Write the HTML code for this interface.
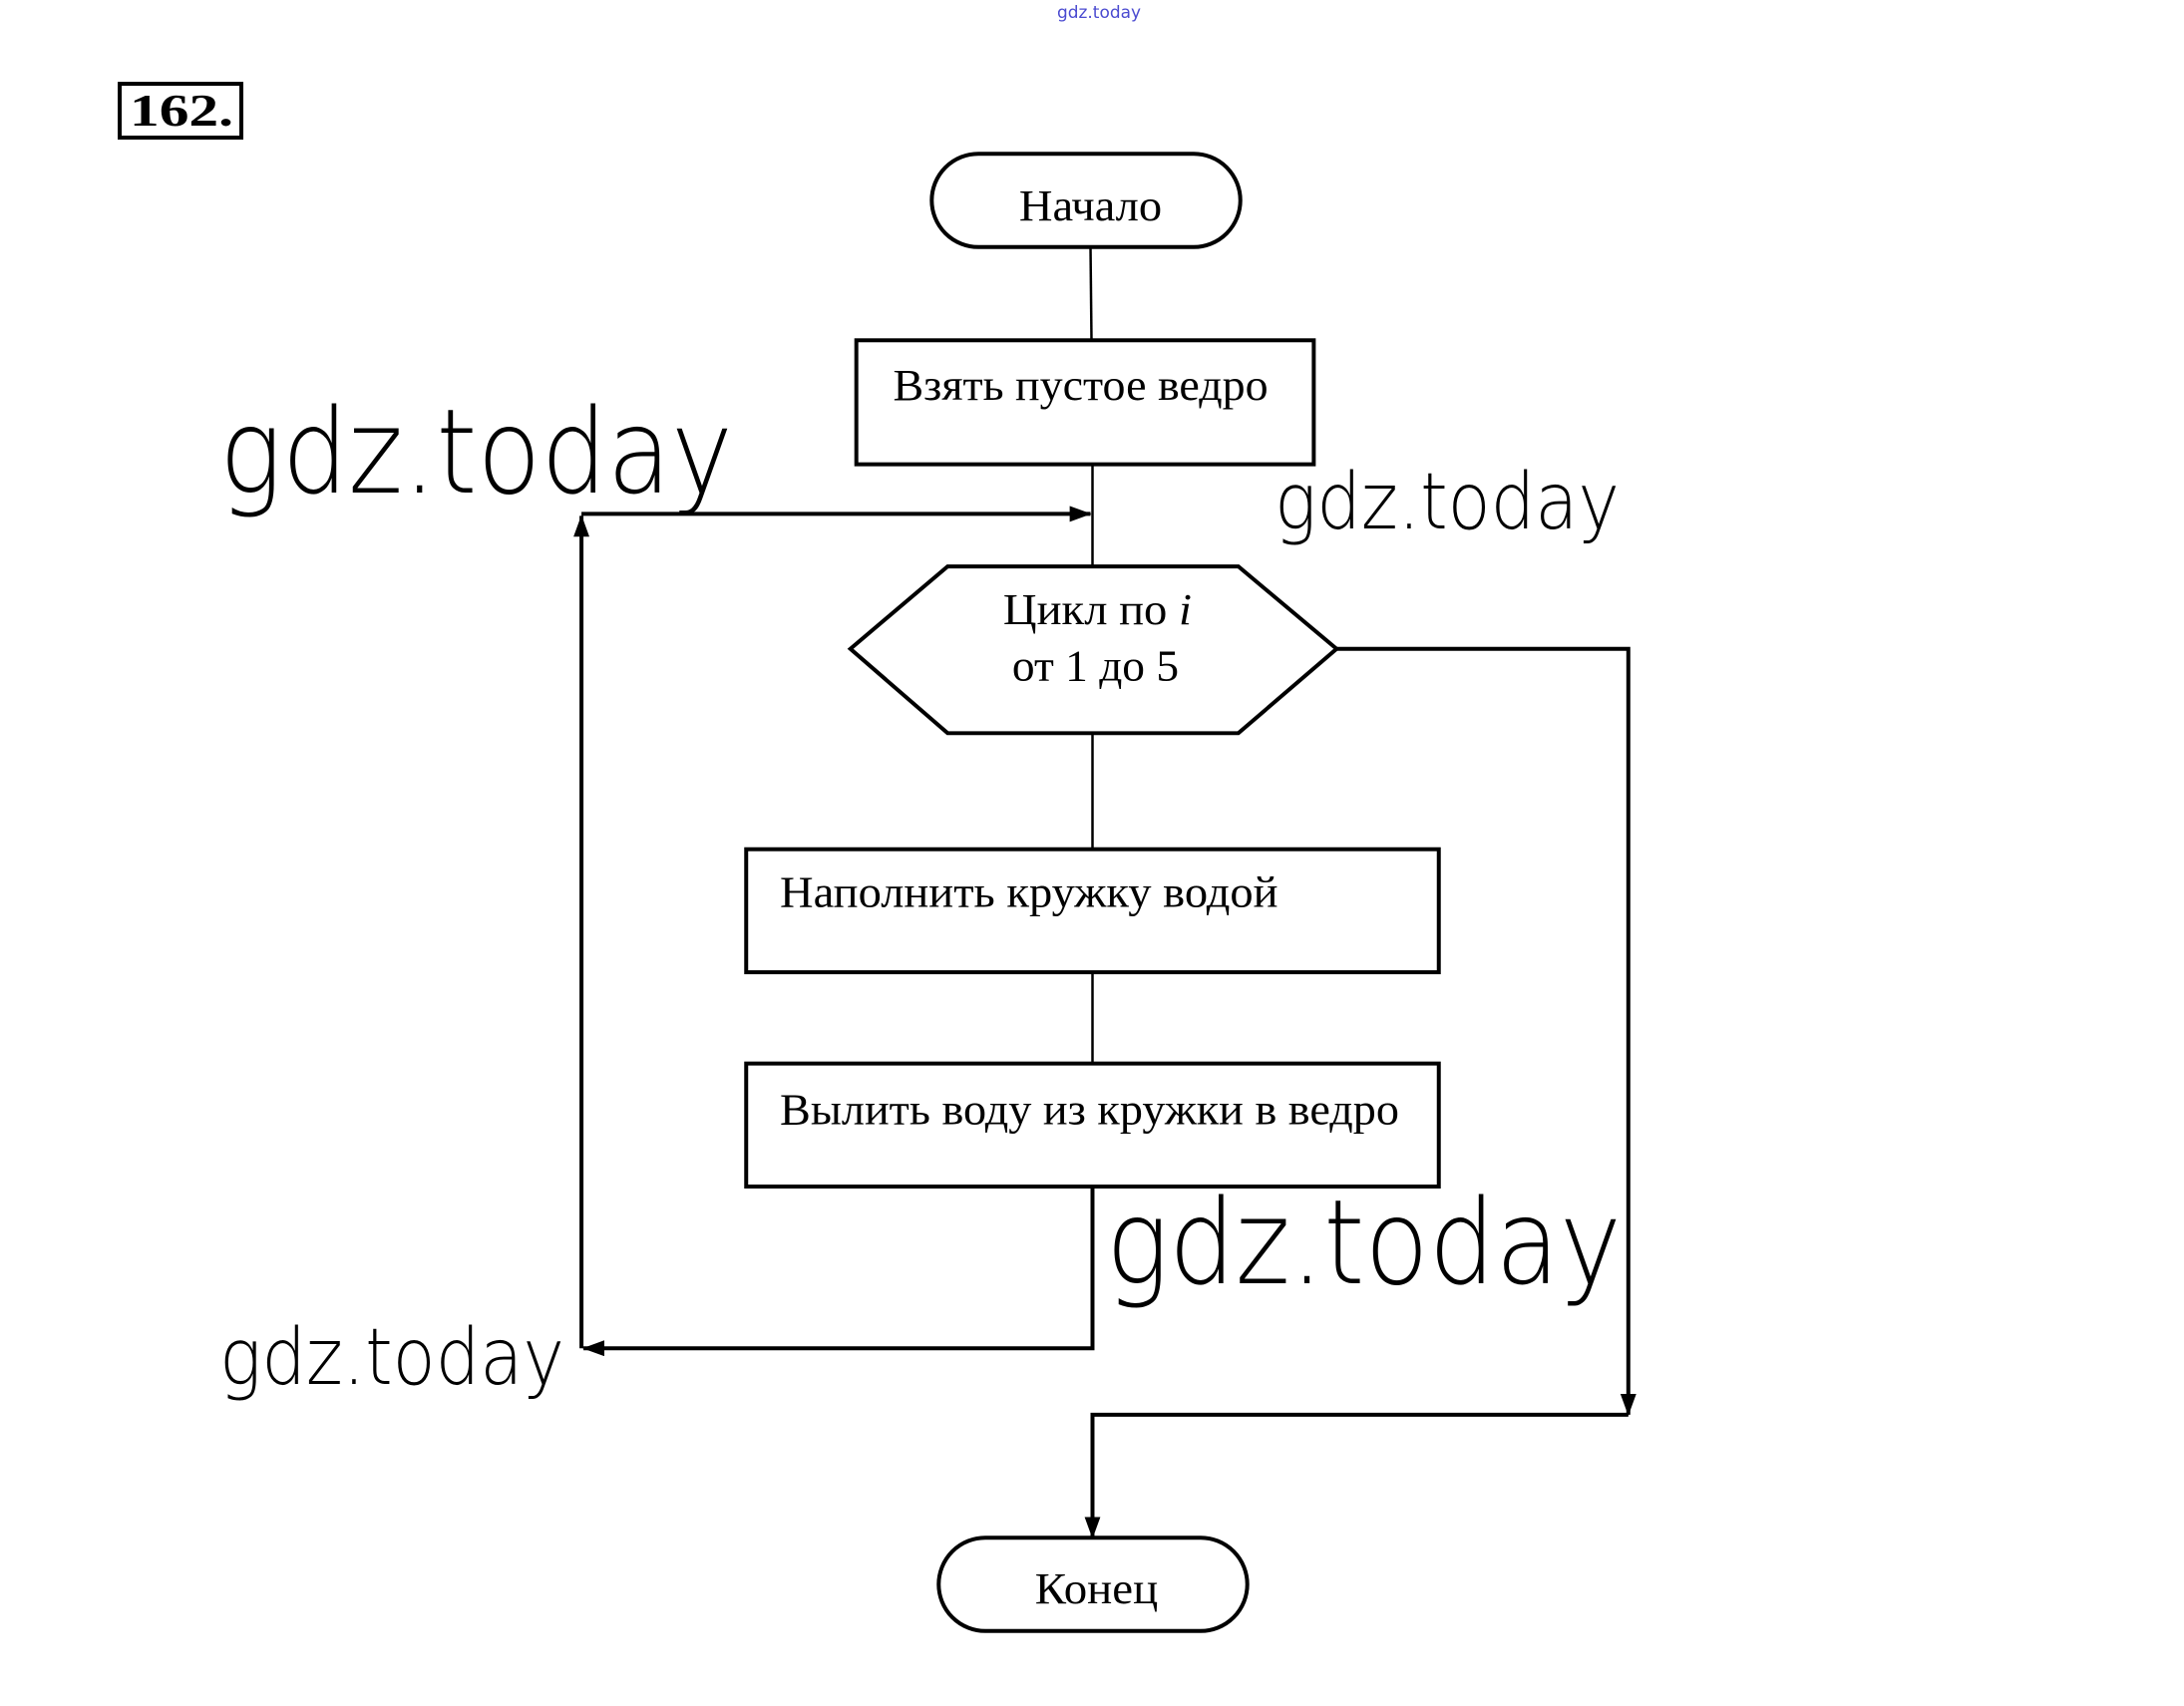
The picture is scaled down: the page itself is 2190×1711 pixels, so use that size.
<!DOCTYPE html>
<html><head><meta charset="utf-8"><style>
html,body{margin:0;padding:0;background:#fff;}
svg{display:block;}
.t{font-family:"Liberation Serif",serif;font-size:45px;fill:#000;}
.w{font-family:"DejaVu Sans","Liberation Sans",sans-serif;font-weight:200;fill:#000;}
</style></head><body>
<svg width="2190" height="1711" viewBox="0 0 2190 1711" xmlns="http://www.w3.org/2000/svg">
<defs>
<marker id="ar" markerWidth="22" markerHeight="16" refX="21" refY="8" orient="auto" markerUnits="userSpaceOnUse" viewBox="0 0 22 16">
<path d="M0,0 L22,8 L0,16 z" fill="#000"/></marker>
</defs>
<rect x="0" y="0" width="2190" height="1711" fill="#fff"/>
<text x="1060" y="18" style="font-family:'DejaVu Sans',sans-serif;font-size:17px;fill:#4a4ad0" textLength="84" lengthAdjust="spacingAndGlyphs">gdz.today</text>

<rect x="120" y="84" width="122" height="54" fill="none" stroke="#000" stroke-width="4"/>
<text x="130" y="126" style="font-family:'Liberation Serif',serif;font-weight:bold;font-size:46px" textLength="104" lengthAdjust="spacingAndGlyphs">162.</text>

<g transform="scale(0.995)">
<!-- start -->
<rect x="939" y="155" width="311" height="94" rx="47" fill="none" stroke="#000" stroke-width="4"/>
<text class="t" x="1027" y="222" textLength="144" lengthAdjust="spacingAndGlyphs">Начало</text>
<line x1="1099" y1="249" x2="1100" y2="343" stroke="#000" stroke-width="2.5"/>

<rect x="863" y="343" width="461" height="125" fill="none" stroke="#000" stroke-width="4"/>
<text class="t" x="900" y="403" textLength="378" lengthAdjust="spacingAndGlyphs">Взять пустое ведро</text>
<line x1="1101" y1="468" x2="1101" y2="570" stroke="#000" stroke-width="2.5"/>

<!-- loop back -->
<polyline points="1101,1196 1101,1359 588,1359" fill="none" stroke="#000" stroke-width="4" marker-end="url(#ar)"/>
<polyline points="586,1359 586,520" fill="none" stroke="#000" stroke-width="4" marker-end="url(#ar)"/>
<polyline points="586,518 1099,518" fill="none" stroke="#000" stroke-width="4" marker-end="url(#ar)"/>

<!-- hexagon -->
<polygon points="857,654 955,571 1248,571 1347,654 1248,739 955,739" fill="#fff" stroke="#000" stroke-width="4"/>
<text class="t" x="1011" y="629" textLength="190" lengthAdjust="spacingAndGlyphs">Цикл по <tspan font-style="italic">i</tspan></text>
<text class="t" x="1020" y="686" textLength="168" lengthAdjust="spacingAndGlyphs">от 1 до 5</text>
<line x1="1101" y1="739" x2="1101" y2="855" stroke="#000" stroke-width="2.5"/>

<rect x="752" y="856" width="698" height="124" fill="none" stroke="#000" stroke-width="4"/>
<text class="t" x="786" y="914" textLength="502" lengthAdjust="spacingAndGlyphs">Наполнить кружку водой</text>
<line x1="1101" y1="980" x2="1101" y2="1072" stroke="#000" stroke-width="2.5"/>

<rect x="752" y="1072" width="698" height="124" fill="none" stroke="#000" stroke-width="4"/>
<text class="t" x="786" y="1133" textLength="624" lengthAdjust="spacingAndGlyphs">Вылить воду из кружки в ведро</text>

<!-- exit -->
<polyline points="1347,654 1641,654 1641,1426" fill="none" stroke="#000" stroke-width="4" marker-end="url(#ar)"/>
<polyline points="1641,1426 1101,1426 1101,1550" fill="none" stroke="#000" stroke-width="4" marker-end="url(#ar)"/>

<rect x="946" y="1550" width="311" height="94" rx="47" fill="none" stroke="#000" stroke-width="4"/>
<text class="t" x="1043" y="1616" textLength="124" lengthAdjust="spacingAndGlyphs">Конец</text>
</g>

<!-- watermarks -->
<text class="w" x="220" y="494" font-size="118" textLength="515" lengthAdjust="spacingAndGlyphs">gdz.today</text>
<text class="w" x="1278" y="530" font-size="78" textLength="346" lengthAdjust="spacingAndGlyphs">gdz.today</text>
<text class="w" x="1109" y="1287" font-size="118" textLength="517" lengthAdjust="spacingAndGlyphs">gdz.today</text>
<text class="w" x="220" y="1388" font-size="78" textLength="346" lengthAdjust="spacingAndGlyphs">gdz.today</text>
</svg>
</body></html>
